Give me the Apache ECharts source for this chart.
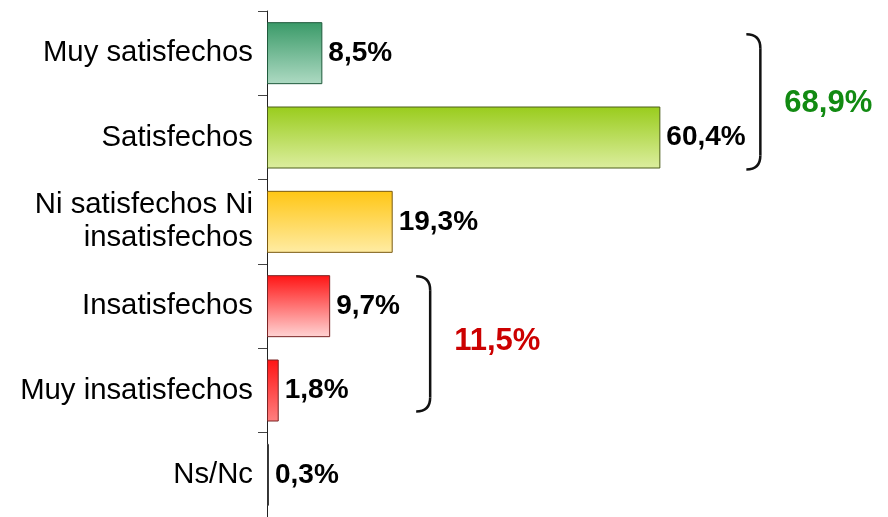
<!DOCTYPE html>
<html><head><meta charset="utf-8">
<script src="https://cdn.jsdelivr.net/npm/echarts@6/dist/echarts.min.js"></script>
<style>html,body{margin:0;padding:0;background:#fff}#c{width:888px;height:517px}</style>
</head><body><div id="c"></div>
<script>
const categories = ['Muy satisfechos', 'Satisfechos', 'Ni satisfechos Ni\ninsatisfechos', 'Insatisfechos', 'Muy insatisfechos', 'Ns/Nc'];
const values = [8.5, 60.4, 19.3, 9.7, 1.8, 0.3];
const groupFrom = [0, 3];
const groupTo = [1, 4];

// styling
const topColors = ['#3a9a68', '#99cc1c', '#ffc614', '#ff1414', '#ff1414', '#ffffff'];
const bottomColors = ['#aedac3', '#dcee9f', '#ffeca4', '#ffd4d4', '#ff8080', '#ffffff'];
const borderColors = ['#1f5a3c', '#4d5e1a', '#7a5a10', '#7a2424', '#7a2424', '#333333'];
const groupColors = ['#128a12', '#cc0000'];
const groupShiftY = [6, -5];
const FONT = "'Liberation Sans', Arial, sans-serif";

const fmt = v => v.toFixed(1).replace('.', ',') + '%';

const chart = echarts.init(document.getElementById('c'), null, {renderer: 'canvas'});
chart.setOption({
  animation: false,
  backgroundColor: '#ffffff',
  textStyle: {fontFamily: FONT},
  grid: {left: 267, top: 11, width: 521, height: 510, containLabel: false},
  xAxis: {type: 'value', min: 0, max: 80, show: false},
  yAxis: {
    type: 'category', data: categories, inverse: true,
    axisLine: {show: true, lineStyle: {color: '#222', width: 1}},
    axisTick: {show: true, length: 9, lineStyle: {color: '#444', width: 1}},
    axisLabel: {fontSize: 29.3, color: '#000', margin: 14, lineHeight: 33, fontFamily: FONT},
    splitLine: {show: false}
  },
  series: [{
    type: 'bar',
    barWidth: 62,
    data: values.map((v, i) => ({
      value: v,
      itemStyle: {
        color: new echarts.graphic.LinearGradient(0, 0, 0, 1, [
          {offset: 0, color: topColors[i]}, {offset: 1, color: bottomColors[i]}
        ]),
        borderColor: borderColors[i], borderWidth: 1
      }
    })),
    label: {
      show: true, position: 'right', distance: 6,
      fontSize: 28, fontWeight: 'bold', color: '#000', fontFamily: FONT,
      formatter: p => fmt(p.value)
    }
  }]
});

const elements = [];
groupFrom.forEach((from, g) => {
  const to = groupTo[g];
  let maxV = 0, sum = 0;
  for (let i = from; i <= to; i++) { maxV = Math.max(maxV, values[i]); sum += values[i]; }
  const pFrom = chart.convertToPixel({gridIndex: 0}, [maxV, from]);
  const pTo = chart.convertToPixel({gridIndex: 0}, [maxV, to]);
  const x = pFrom[0] + 100;
  const top = pFrom[1] - 25 + groupShiftY[g];
  const bottom = pTo[1] + 26 + groupShiftY[g];
  const r = 14;
  const st = {stroke: '#111', lineWidth: 2.5, fill: null};
  elements.push({type: 'bezierCurve', shape: {x1: x - r, y1: top, cpx1: x, cpy1: top, x2: x, y2: top + r}, style: st, silent: true});
  elements.push({type: 'line', shape: {x1: x, y1: top + r, x2: x, y2: bottom - r}, style: st, silent: true});
  elements.push({type: 'bezierCurve', shape: {x1: x, y1: bottom - r, cpx1: x, cpy1: bottom, x2: x - r, y2: bottom}, style: st, silent: true});
  elements.push({
    type: 'text', x: x + 24, y: (top + bottom) / 2 + (g === 0 ? 2 : -2),
    style: {text: fmt(Math.round(sum * 10) / 10), fill: groupColors[g], fontSize: 31, fontWeight: 'bold', fontFamily: FONT, verticalAlign: 'middle', align: 'left'},
    silent: true
  });
});
chart.setOption({graphic: {elements}});
</script>
</body></html>
